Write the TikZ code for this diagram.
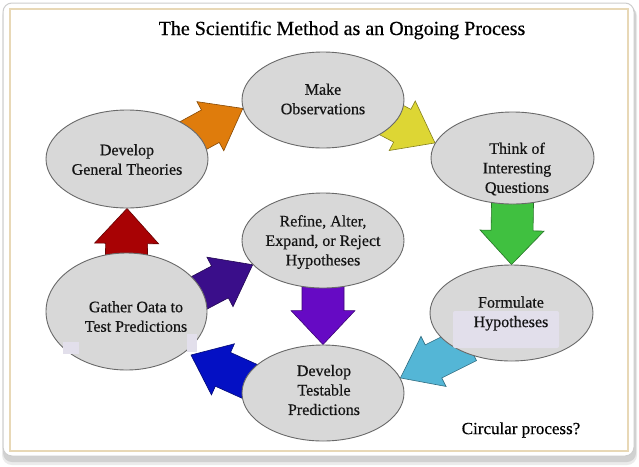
\documentclass[tikz,border=0pt]{standalone}
\usepackage{fontspec}
\setmainfont{Liberation Serif}[FakeBold=0.45]
\usetikzlibrary{calc,backgrounds,shapes.geometric}

\definecolor{ellfill}{RGB}{216,216,216}
\definecolor{elldraw}{RGB}{105,105,105}
\definecolor{tan}{RGB}{232,216,182}
\definecolor{framegray}{RGB}{205,205,205}
\definecolor{patch}{RGB}{226,223,235}
\definecolor{aorange}{RGB}{223,124,12}
\definecolor{ayellow}{RGB}{221,214,52}
\definecolor{agreen}{RGB}{64,192,64}
\definecolor{acyan}{RGB}{84,182,214}
\definecolor{ablue}{RGB}{4,16,196}
\definecolor{aindigo}{RGB}{58,14,138}
\definecolor{aviolet}{RGB}{102,10,196}
\definecolor{ared}{RGB}{168,2,4}

% block arrow: #1 tail, #2 tip, #3 body half width, #4 head half width, #5 head length, #6 colour
\newcommand\blockarr[6]{%
  \path ($(#2)!#5!(#1)$) coordinate (ah) ($(#1)!-12pt!(#2)$) coordinate (at);
  \filldraw[fill=#6, draw=#6!60!black, line width=0.6pt, line join=miter]
    ($(at)!#3!90:(#2)$) -- ($(ah)!#3!90:(#2)$) -- ($(ah)!#4!90:(#2)$) -- (#2)
    -- ($(ah)!#4!-90:(#2)$) -- ($(ah)!#3!-90:(#2)$) -- ($(at)!#3!-90:(#2)$) -- cycle;}

\tikzset{
  ell/.style={ellipse, draw=elldraw, line width=0.9pt, fill=ellfill, inner sep=0pt},
  lbl/.style={align=center, font=\fontsize{16}{19.5}\selectfont, inner sep=0pt, text=black!92},
}

\begin{document}
\begin{tikzpicture}[x=1pt,y=-1pt]
\useasboundingbox (0,0) rectangle (639,466);

\begin{scope}[on background layer]
  \fill[white] (0,0) rectangle (639,466);
  \fill[black!8, rounded corners=10pt] (2,6) rectangle (637,465);
  \fill[black!18, rounded corners=9pt] (3,6) rectangle (636,462);
  \filldraw[fill=white, draw=framegray, line width=1pt, rounded corners=9pt] (3,3) rectangle (634,456);
  \draw[tan, line width=1.3pt] (10,9) rectangle (628,451);
\end{scope}

% ellipses
\node[ell, minimum width=162pt, minimum height=98pt] (dgt) at (127,159) {};
\node[ell, minimum width=162pt, minimum height=96pt] (mo)  at (323,100) {};
\node[ell, minimum width=163pt, minimum height=92pt] (tq)  at (512.5,158) {};
\node[ell, minimum width=162pt, minimum height=95pt] (re)  at (323,240.5) {};
\node[ell, minimum width=161pt, minimum height=117pt] (gd) at (126.5,311.5) {};
\node[ell, minimum width=163pt, minimum height=96pt] (fh)  at (511.5,313) {};
\node[ell, minimum width=162pt, minimum height=96pt] (dt)  at (323,393) {};

% light patches
\fill[patch, rounded corners=2pt] (453,311) rectangle (559,348);
\fill[patch] (63,342) rectangle (79,354);
\fill[patch] (187,334) rectangle (197,352);

% texts
\node[lbl] (dgt-t) at (127,159.5) {Develop\\General Theories};
\node[lbl] (mo-t)  at (323,99) {Make\\Observations};
\node[lbl] (tq-t)  at (517,169) {Think of\\Interesting\\Questions};
\node[lbl] (re-t)  at (323,242) {Refine, Alter,\\Expand, or Reject\\Hypotheses};
\node[lbl] (gd-t)  at (136,316.5) {Gather Oata to\\Test Predictions};
\node[lbl] (fh-t)  at (511,313.5) {Formulate\\Hypotheses};
\node[lbl] (dt-t)  at (324,390) {Develop\\Testable\\Predictions};

\node[font=\fontsize{20}{24}\selectfont, anchor=base, inner sep=0pt] (title) at (342,35) {The Scientific Method as an Ongoing Process};
\node[font=\fontsize{17}{20}\selectfont, inner sep=0pt] (circ) at (521,430) {Circular process?};

\coordinate (gdtip) at (191,355);

% arrows
\begin{scope}[on background layer]
  \blockarr{dgt.20}{mo.186}{18.5pt}{28pt}{37pt}{aorange}
  \blockarr{mo.343}{tq.169}{18.5pt}{28pt}{37pt}{ayellow}
  \blockarr{tq.south}{fh.north}{21pt}{32pt}{34pt}{agreen}
  \blockarr{fh.214}{dt.11}{18.5pt}{28pt}{37pt}{acyan}
  \blockarr{dt.170}{gdtip}{18.5pt}{28pt}{35pt}{ablue}
  \blockarr{gd.15}{re.199}{18pt}{28pt}{37pt}{aindigo}
  \blockarr{re.south}{dt.north}{21pt}{32pt}{34pt}{aviolet}
  \blockarr{gd.north}{dgt.south}{21pt}{32pt}{35pt}{ared}
\end{scope}
\end{tikzpicture}
\end{document}
